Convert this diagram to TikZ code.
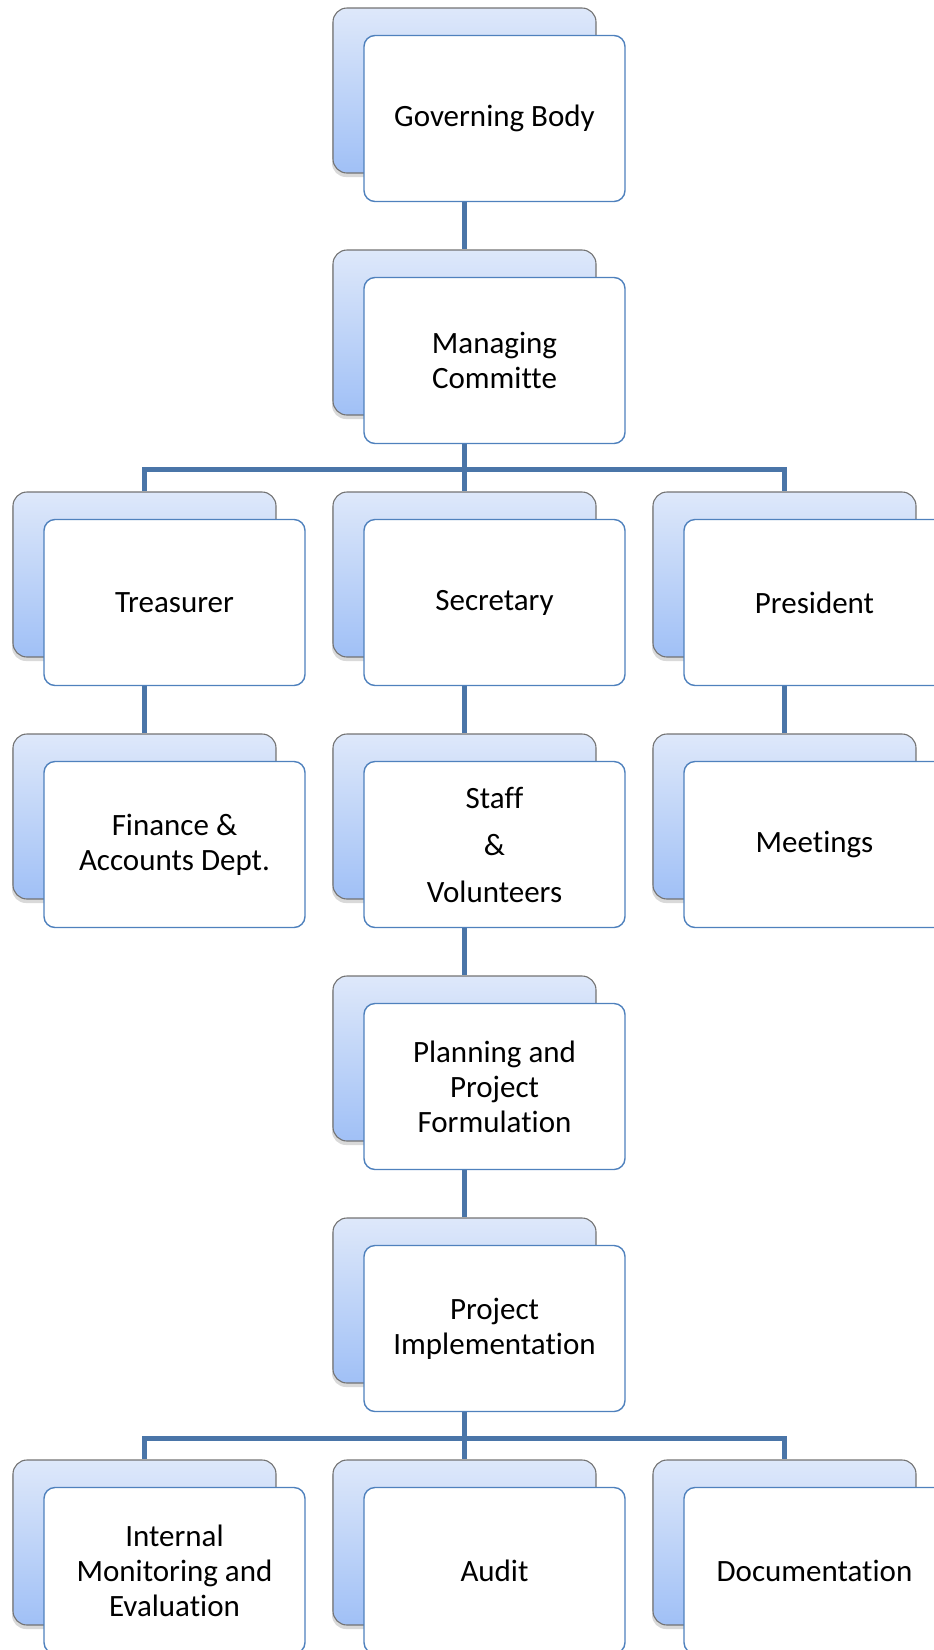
\documentclass[tikz,border=0pt]{standalone}
\usepackage{fontspec}
\setmainfont{Carlito}[Ligatures=NoCommon]
\usepackage{xcolor}
\usetikzlibrary{positioning,backgrounds,shadows}

\definecolor{linkblue}{RGB}{74,117,168}
\definecolor{edgeblue}{RGB}{79,129,189}
\definecolor{cardtop}{RGB}{222,232,250}
\definecolor{cardbot}{RGB}{160,192,246}

\begin{document}
\begin{tikzpicture}[x=1pt,y=-1pt,
    backbox/.style={rectangle,rounded corners=14pt,draw=gray!90!black,line width=1.1pt,
        top color=cardtop,bottom color=cardbot,minimum width=263pt,minimum height=165pt,
        drop shadow={shadow xshift=-1pt,shadow yshift=-4pt,opacity=0.3}},
    frontbox/.style={rectangle,rounded corners=11pt,draw=edgeblue,line width=1.4pt,fill=white,
        minimum width=261pt,minimum height=166pt,align=center,
        font=\fontsize{31}{35}\selectfont},
    link/.style={draw=linkblue,line width=5pt}]

    \clip (0,0) rectangle (934,1650);

    % The boxes
    \node [backbox] at (464.5,90.5) (gbb) {};
    \node [frontbox] at (494.5,118.5) (gb) {Governing Body};

    \node [backbox] at (464.5,332.5) (mcb) {};
    \node [frontbox] at (494.5,360.5) (mc) {Managing\\Committe};

    \node [backbox] at (144.5,574.5) (trb) {};
    \node [frontbox] at (174.5,602.5) (tr) {Treasurer};
    \node [backbox] at (464.5,574.5) (seb) {};
    \node [frontbox] at (494.5,602.5) (se) {Secretary};
    \node [backbox] at (784.5,574.5) (prb) {};
    \node [frontbox] at (814.5,602.5) (pr) {President};

    \node [backbox] at (144.5,816.5) (fab) {};
    \node [frontbox] at (174.5,844.5) (fa) {Finance \&\\Accounts Dept.};
    \node [backbox] at (464.5,816.5) (svb) {};
    \node [frontbox] at (494.5,844.5) (sv) {Staff\\[12pt]\&\\[12pt]Volunteers};
    \node [backbox] at (784.5,816.5) (meb) {};
    \node [frontbox] at (814.5,844.5) (me) {Meetings};

    \node [backbox] at (464.5,1058.5) (ppb) {};
    \node [frontbox] at (494.5,1086.5) (pp) {Planning and\\Project\\Formulation};

    \node [backbox] at (464.5,1300.5) (pib) {};
    \node [frontbox] at (494.5,1328.5) (pi) {Project\\Implementation};

    \node [backbox] at (144.5,1542.5) (imb) {};
    \node [frontbox] at (174.5,1570.5) (im) {Internal\\Monitoring and\\Evaluation};
    \node [backbox] at (464.5,1542.5) (aub) {};
    \node [frontbox] at (494.5,1570.5) (au) {Audit};
    \node [backbox] at (784.5,1542.5) (dob) {};
    \node [frontbox] at (814.5,1570.5) (do) {Documentation};

    % Connectors
    \coordinate (bar1) at (464.5,469);
    \coordinate (bar2) at (464.5,1438);
    \begin{scope}[on background layer]
    \path[link]
    (gbb) -- (mcb)
    (mcb) -- (seb)
    (trb) |- (bar1) -| (prb)
    (trb) -- (fab)
    (seb) -- (svb)
    (prb) -- (meb)
    (svb) -- (ppb)
    (ppb) -- (pib)
    (pib) -- (aub)
    (imb) |- (bar2) -| (dob);
    \end{scope}

\end{tikzpicture}
\end{document}
